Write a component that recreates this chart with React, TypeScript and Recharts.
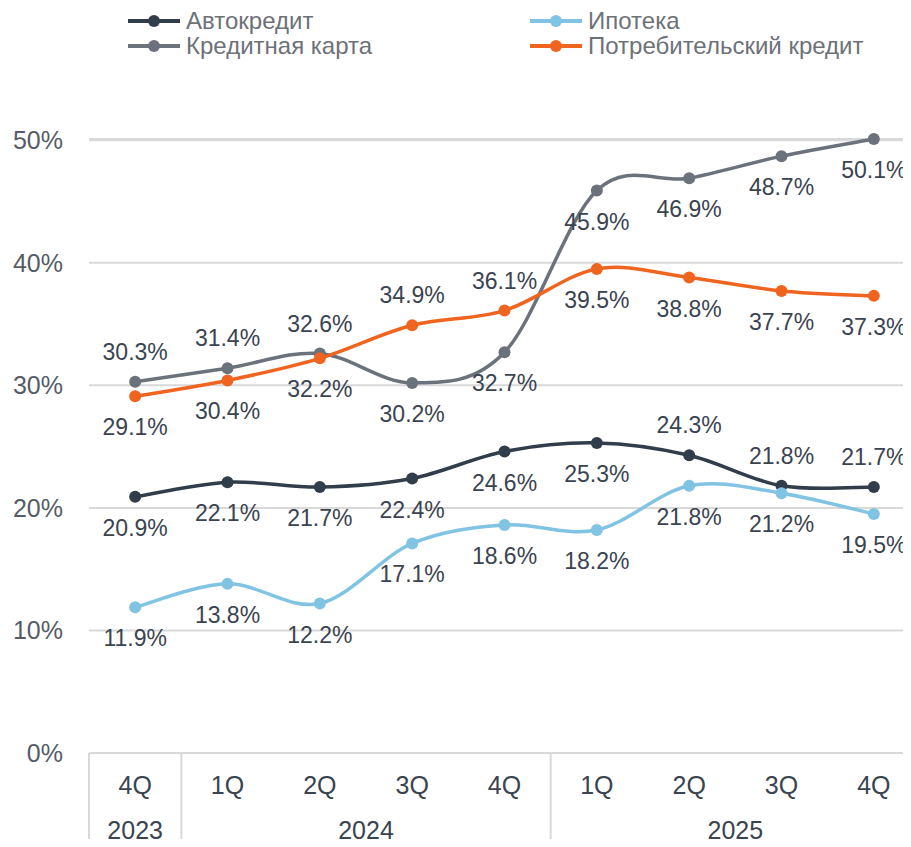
import { LineChart, Line, XAxis, YAxis, CartesianGrid, LabelList, Legend } from "recharts";

const quarters = ["4Q", "1Q", "2Q", "3Q", "4Q", "1Q", "2Q", "3Q", "4Q"];
const years = ["2023", "2024", "2024", "2024", "2024", "2025", "2025", "2025", "2025"];

const autoLoan = [20.9, 22.1, 21.7, 22.4, 24.6, 25.3, 24.3, 21.8, 21.7];
const mortgage = [11.9, 13.8, 12.2, 17.1, 18.6, 18.2, 21.8, 21.2, 19.5];
const creditCard = [30.3, 31.4, 32.6, 30.2, 32.7, 45.9, 46.9, 48.7, 50.1];
const consumerLoan = [29.1, 30.4, 32.2, 34.9, 36.1, 39.5, 38.8, 37.7, 37.3];

const yTicks = [0, 10, 20, 30, 40, 50];

// which side of the point each value label sits on
const autoSide = ["below", "below", "below", "below", "below", "below", "above", "above", "above"];
const mortgageSide = ["below", "below", "below", "below", "below", "below", "below", "below", "below"];
const cardSide = ["above", "above", "above", "below", "below", "below", "below", "below", "below"];
const consumerSide = ["below", "below", "below", "above", "above", "below", "below", "below", "below"];

const CHART_W = 920;
const CHART_H = 847;
const Y_AXIS_W = 89;
const X_AXIS_H = 94;
const LEGEND_H = 139;
const STEP = (CHART_W - Y_AXIS_W) / quarters.length;

const GRID = "#d9d9d9";
const LABEL = "#3a4350";
const FONT = "'Liberation Sans', Arial, sans-serif";

const rows = quarters.map((q, i) => ({
  key: `${years[i]}-${q}`,
  auto: autoLoan[i],
  mortgage: mortgage[i],
  card: creditCard[i],
  consumer: consumerLoan[i],
}));

// Excel-like smoothing (Catmull-Rom through every point)
function smoothCurve(context: any) {
  let pts: [number, number][] = [];
  return {
    areaStart() {},
    areaEnd() {},
    lineStart() {
      pts = [];
    },
    point(x: number, y: number) {
      pts.push([+x, +y]);
    },
    lineEnd() {
      if (!pts.length) return;
      context.moveTo(pts[0][0], pts[0][1]);
      for (let i = 0; i < pts.length - 1; i++) {
        const p0 = pts[i - 1] || pts[i];
        const p1 = pts[i];
        const p2 = pts[i + 1];
        const p3 = pts[i + 2] || p2;
        context.bezierCurveTo(
          p1[0] + (p2[0] - p0[0]) / 6,
          p1[1] + (p2[1] - p0[1]) / 6,
          p2[0] - (p3[0] - p1[0]) / 6,
          p2[1] - (p3[1] - p1[1]) / 6,
          p2[0],
          p2[1]
        );
      }
    },
  };
}

const makeLabel = (sides: string[]) => (props: any) => {
  const x = props.x ?? props.viewBox?.x;
  const y = props.y ?? props.viewBox?.y;
  const { value, index } = props;
  if (x == null || y == null) return null;
  const dy = sides[index] === "above" ? -30 : 31;
  return (
    <text x={x} y={y + dy} dy="0.35em" textAnchor="middle" fontSize={23} fill={LABEL} fontFamily={FONT}>
      {Number(value).toFixed(1)}%
    </text>
  );
};

function QuarterTick(props: any) {
  const { x, y, index } = props;
  const half = STEP / 2;
  const isStart = index === 0 || years[index] !== years[index - 1];
  let len = 0;
  while (years[index + len] === years[index]) len++;
  const isLast = index === quarters.length - 1;
  return (
    <g>
      <text x={x} y={y + 41} textAnchor="middle" fontSize={25} fill={LABEL} fontFamily={FONT}>
        {quarters[index]}
      </text>
      {isStart && (
        <>
          <line x1={x - half} x2={x - half} y1={y} y2={y + X_AXIS_H} stroke={GRID} strokeWidth={2} />
          <text x={x + (len - 1) * half} y={y + 86} textAnchor="middle" fontSize={25} fill={LABEL} fontFamily={FONT}>
            {years[index]}
          </text>
        </>
      )}
      {isLast && <line x1={x + half} x2={x + half} y1={y} y2={y + X_AXIS_H} stroke={GRID} strokeWidth={2} />}
    </g>
  );
}

function LegendBox({ payload }: any) {
  return (
    <div style={{ position: "relative", height: LEGEND_H, fontFamily: FONT }}>
      {(payload ?? []).map((item: any, i: number) => (
        <div
          key={item.value}
          style={{
            position: "absolute",
            left: 128 + (i % 2) * 402,
            top: 8 + Math.floor(i / 2) * 24.5,
            height: 26,
            display: "flex",
            alignItems: "center",
            whiteSpace: "nowrap",
          }}
        >
          <svg width={52} height={14}>
            <line x1={0} x2={52} y1={7} y2={7} stroke={item.color} strokeWidth={4} />
            <circle cx={26} cy={7} r={6} fill={item.color} />
          </svg>
          <span style={{ marginLeft: 6, fontSize: 24, color: "#6d7178" }}>{item.value}</span>
        </div>
      ))}
    </div>
  );
}

const series = [
  { key: "auto", name: "Автокредит", color: "#323d4b", sides: autoSide },
  { key: "mortgage", name: "Ипотека", color: "#80c3e3", sides: mortgageSide },
  { key: "card", name: "Кредитная карта", color: "#6c727b", sides: cardSide },
  { key: "consumer", name: "Потребительский кредит", color: "#ef6520", sides: consumerSide },
];

export default function App() {
  return (
    <div style={{ width: 911, height: 847, margin: -8, overflow: "hidden", background: "#fff" }}>
      <LineChart width={CHART_W} height={CHART_H} data={rows} margin={{ top: 0, right: 0, bottom: 0, left: 0 }}>
        <CartesianGrid vertical={false} stroke={GRID} strokeWidth={2} />
        <Legend
          verticalAlign="top"
          align="left"
          content={<LegendBox />}
          wrapperStyle={{ top: 0, left: 0, width: 911, height: LEGEND_H }}
        />
        <XAxis
          dataKey="key"
          scale="band"
          interval={0}
          height={X_AXIS_H}
          tickLine={false}
          tickSize={0}
          tickMargin={0}
          axisLine={{ stroke: GRID, strokeWidth: 2 }}
          tick={<QuarterTick />}
        />
        <YAxis
          width={Y_AXIS_W}
          domain={[0, 50]}
          ticks={yTicks}
          axisLine={false}
          tickLine={false}
          tickSize={6}
          tickMargin={20}
          tickFormatter={(v: number) => `${v}%`}
          tick={{ fontSize: 25, fill: "#555c66", fontFamily: FONT }}
        />
        {series.map((s) => (
          <Line
            key={s.key}
            dataKey={s.key}
            name={s.name}
            type={smoothCurve as any}
            stroke={s.color}
            strokeWidth={3.5}
            dot={{ r: 6, fill: s.color, stroke: "none" }}
            activeDot={false}
            isAnimationActive={false}
          >
            <LabelList dataKey={s.key} content={makeLabel(s.sides)} />
          </Line>
        ))}
      </LineChart>
    </div>
  );
}
